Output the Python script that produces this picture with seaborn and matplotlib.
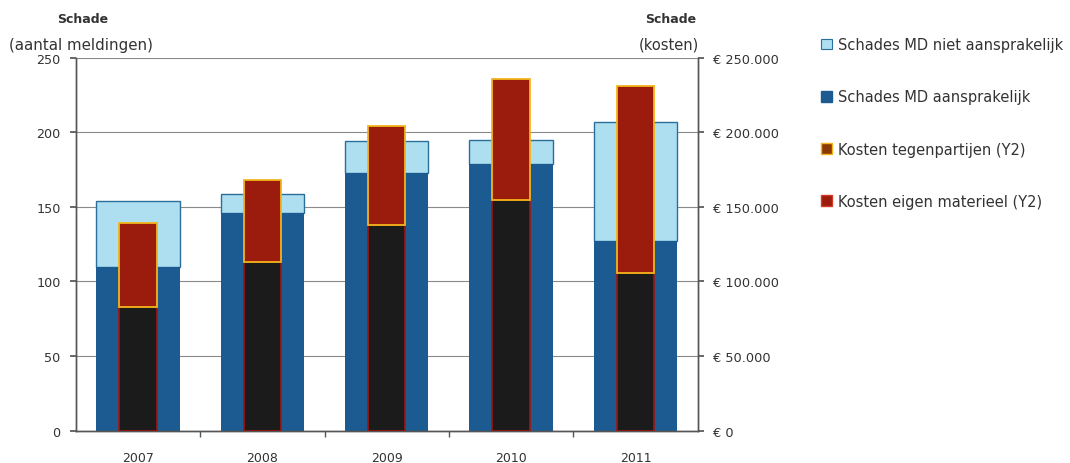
import numpy as np
import pandas as pd
import matplotlib
matplotlib.use("Agg")
import matplotlib.pyplot as plt
from matplotlib.patches import Patch
from matplotlib.ticker import FuncFormatter, FixedLocator
import seaborn as sns

years = ["2007", "2008", "2009", "2010", "2011"]
schades_aansprakelijk = [110, 146, 173, 179, 127]
schades_niet_aansprakelijk = [44, 13, 21, 16, 80]
kosten_tegenpartijen = [83000, 113000, 138000, 155000, 106000]
kosten_eigen_materieel = [56000, 55000, 66000, 81000, 125000]

sns.set_theme(style="white")
plt.rcParams['font.family'] = ['DejaVu Sans']

df = pd.DataFrame({
    "jaar": years,
    "aansprakelijk": schades_aansprakelijk,
    "niet": schades_niet_aansprakelijk,
    "tegen": kosten_tegenpartijen,
    "eigen": kosten_eigen_materieel,
})

c_dark = "#1c5b92"
c_light = "#addff0"
c_red = "#9b1c0c"
c_black = "#1b1b1b"
c_orange = "#f2b51c"
c_redge = "#a3140f"
c_text = "#333333"

fig = plt.figure(figsize=(10.7, 4.64), dpi=100)
ax = fig.add_axes([0.071, 0.070, 0.581, 0.803])

sns.barplot(data=df, x="jaar", y="niet", ax=ax, color=c_light,
            width=0.67, saturation=1, bottom=np.array(schades_aansprakelijk),
            edgecolor="#2a6f9a", linewidth=1.0, zorder=2)
sns.barplot(data=df, x="jaar", y="aansprakelijk", ax=ax, color=c_dark,
            width=0.67, saturation=1, linewidth=0, zorder=2.5)

ax2 = ax.twinx()
sns.barplot(data=df, x="jaar", y="tegen", ax=ax2, color=c_black,
            width=0.30, saturation=1, edgecolor=c_redge, linewidth=1.2, zorder=3)
sns.barplot(data=df, x="jaar", y="eigen", ax=ax2, color=c_red,
            width=0.30, saturation=1, bottom=np.array(kosten_tegenpartijen),
            edgecolor=c_orange, linewidth=1.3, zorder=3)

ax.set_ylim(0, 250)
ax2.set_ylim(0, 250000)
ax.set_xlim(-0.5, 4.5)
ax.set_yticks([0, 50, 100, 150, 200, 250])
ax2.set_yticks([0, 50000, 100000, 150000, 200000, 250000])

def euro(v, pos):
    v = int(round(v))
    if v == 0:
        return "€ 0"
    return "€ " + f"{v:,}".replace(",", ".")
ax2.yaxis.set_major_formatter(FuncFormatter(euro))

ax.set_xlabel("")
ax.set_ylabel("")
ax2.set_xlabel("")
ax2.set_ylabel("")

ax.yaxis.grid(True, color="#8a8a8a", linewidth=0.8, zorder=0)
ax.set_axisbelow(True)

for a in (ax, ax2):
    a.spines["top"].set_visible(False)
    for s in ("left", "right", "bottom"):
        a.spines[s].set_color("#555555")
        a.spines[s].set_linewidth(1.0)

ax.tick_params(axis="y", which="major", length=4, direction="out", left=True,
               colors="#555555", labelcolor=c_text, labelsize=9.2, pad=7)
ax2.tick_params(axis="y", which="major", length=4, direction="out", right=True,
                colors="#555555", labelcolor=c_text, labelsize=9.3, pad=7)
ax.tick_params(axis="x", which="major", length=0, labelsize=9, labelcolor=c_text, pad=15)
ax.xaxis.set_minor_locator(FixedLocator([0.5, 1.5, 2.5, 3.5]))
ax.tick_params(axis="x", which="minor", length=4, direction="out", bottom=True, color="#555555")

fig.text(0.077, 0.957, "Schade", ha="center", va="center", fontsize=9, fontweight="bold", color=c_text)
fig.text(0.008, 0.903, "(aantal meldingen)", ha="left", va="center", fontsize=10.8, color=c_text)
fig.text(0.651, 0.957, "Schade", ha="right", va="center", fontsize=9, fontweight="bold", color=c_text)
fig.text(0.653, 0.903, "(kosten)", ha="right", va="center", fontsize=10.5, color=c_text)

handles = [
    Patch(facecolor=c_light, edgecolor="#2a6f9a", linewidth=0.8, label="Schades MD niet aansprakelijk"),
    Patch(facecolor=c_dark, edgecolor=c_dark, label="Schades MD aansprakelijk"),
    Patch(facecolor="#8a3a06", edgecolor=c_orange, linewidth=1.0, label="Kosten tegenpartijen (Y2)"),
    Patch(facecolor=c_red, edgecolor="#d43a2a", linewidth=1.0, label="Kosten eigen materieel (Y2)"),
]
fig.legend(handles=handles, loc="upper left", bbox_to_anchor=(0.755, 0.946),
           frameon=False, fontsize=10.5, labelspacing=2.55, handlelength=0.75,
           handleheight=0.75, handletextpad=0.45, labelcolor=c_text)

fig.savefig("out.png", dpi=100)
